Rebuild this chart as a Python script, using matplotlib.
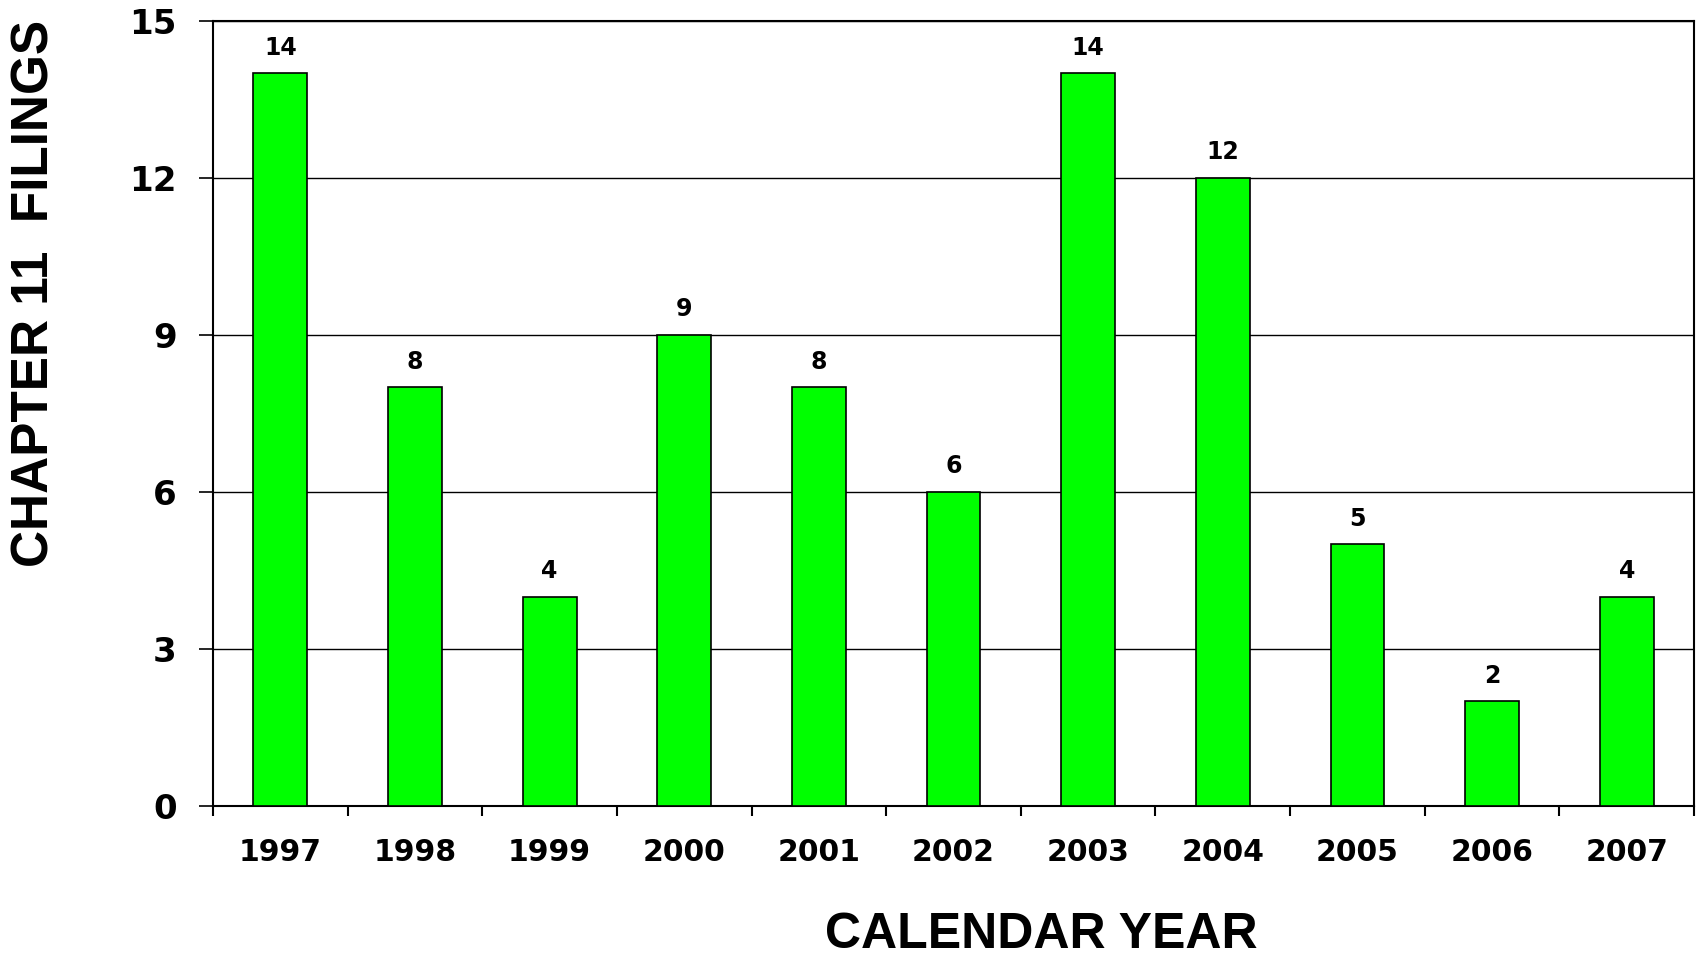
import numpy as np
import matplotlib
matplotlib.use("Agg")
import matplotlib.pyplot as plt
from matplotlib.ticker import FixedLocator, NullFormatter, FixedFormatter

years = ["1997", "1998", "1999", "2000", "2001", "2002",
         "2003", "2004", "2005", "2006", "2007"]
filings = [14, 8, 4, 9, 8, 6, 14, 12, 5, 2, 4]
y_ticks = [0, 3, 6, 9, 12, 15]

num_font = "DejaVu Sans"
txt_font = "Liberation Sans"

fig = plt.figure(figsize=(17, 9.6), dpi=100)
ax = fig.add_axes([0.1253, 0.1604, 0.8712, 0.8176])

x = np.arange(len(years))
bars = ax.bar(x, filings, width=0.4, color="#00FF00", edgecolor="black",
              linewidth=1.2, zorder=3)

for xi, v in zip(x, filings):
    ax.annotate(str(v), (xi, v), xytext=(0, 13.5), textcoords="offset points",
                ha="center", va="baseline", fontsize=17, fontweight="bold",
                family=num_font)

ax.set_xlim(-0.5, len(years) - 0.5)
ax.set_ylim(0, 15)

# boundaries get the tick marks, centres get the labels
ax.xaxis.set_major_locator(FixedLocator(np.arange(-0.5, len(years), 1.0)))
ax.xaxis.set_major_formatter(NullFormatter())
ax.xaxis.set_minor_locator(FixedLocator(x))
ax.xaxis.set_minor_formatter(FixedFormatter(years))
ax.tick_params(axis="x", which="major", direction="out", length=7, width=1.5)
ax.tick_params(axis="x", which="minor", length=0, pad=23)
for lab in ax.get_xticklabels(minor=True):
    lab.set_fontsize(21.5)
    lab.set_fontweight("bold")
    lab.set_family(num_font)

ax.set_yticks(y_ticks)
ax.tick_params(axis="y", direction="out", length=10, width=1.2, pad=16)
for lab in ax.get_yticklabels():
    lab.set_fontsize(24.5)
    lab.set_fontweight("bold")
    lab.set_family(num_font)

ax.yaxis.grid(True, color="black", linewidth=1.0, zorder=0)
ax.set_axisbelow(True)
for s in ax.spines.values():
    s.set_linewidth(1.5)
    s.set_color("black")

fig.text(35 / 1700, 1 - 293 / 960, "CHAPTER 11  FILINGS", rotation=90,
         ha="center", va="center", fontsize=37, fontweight="bold", family=txt_font)
fig.text(1041 / 1700, 0.012, "CALENDAR YEAR", ha="center", va="baseline",
         fontsize=36, fontweight="bold", family=txt_font)

fig.savefig("out.png", dpi=100)
